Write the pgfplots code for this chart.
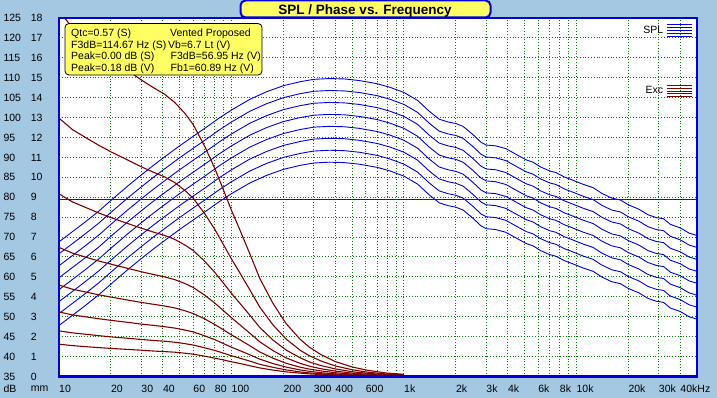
\documentclass[border=0pt]{standalone}
\usepackage{pgfplots}
\pgfplotsset{compat=1.18}
\usepackage{pgfplotstable}
\usepackage{fontspec}
\setmainfont{Liberation Sans}
\definecolor{bgblue}{RGB}{164,200,226}
\definecolor{frameblue}{RGB}{0,0,215}
\definecolor{splblue}{RGB}{0,0,224}
\definecolor{excred}{RGB}{128,0,0}
\definecolor{gridgreen}{RGB}{0,128,0}
\definecolor{boxyellow}{RGB}{255,255,100}

\pgfplotstableread{
f s0 s1 s2 s3 s4 s5 s6 s7
10 68.8 65.8 62.8 59.8 56.8 53.8 50.8 47.8
12 71.4 68.4 65.4 62.4 59.4 56.4 53.4 50.4
14 73.6 70.6 67.6 64.6 61.6 58.6 55.6 52.6
17 76.5 73.5 70.5 67.5 64.5 61.5 58.5 55.5
20 79.2 76.2 73.2 70.2 67.2 64.2 61.2 58.2
25 82.8 79.8 76.8 73.8 70.8 67.8 64.8 61.8
30 85.6 82.6 79.6 76.6 73.6 70.6 67.6 64.6
35 87.9 84.9 81.9 78.9 75.9 72.9 69.9 66.9
40 89.8 86.8 83.8 80.8 77.8 74.8 71.8 68.8
50 92.9 89.9 86.9 83.9 80.9 77.9 74.9 71.9
60 95.3 92.3 89.3 86.3 83.3 80.3 77.3 74.3
70 97.3 94.3 91.3 88.3 85.3 82.3 79.3 76.3
85 99.9 96.9 93.9 90.9 87.9 84.9 81.9 78.9
100 101.9 98.9 95.9 92.9 89.9 86.9 83.9 80.9
128 104.6 101.6 98.6 95.6 92.6 89.6 86.6 83.6
160 106.5 103.5 100.5 97.5 94.5 91.5 88.5 85.5
200 108.0 105.0 102.0 99.0 96.0 93.0 90.0 87.0
250 109.0 106.0 103.0 100.0 97.0 94.0 91.0 88.0
300 109.6 106.6 103.6 100.6 97.6 94.6 91.6 88.6
370 109.8 106.8 103.8 100.8 97.8 94.8 91.8 88.8
450 109.7 106.7 103.7 100.7 97.7 94.7 91.7 88.7
550 109.3 106.3 103.3 100.3 97.3 94.3 91.3 88.3
700 108.5 105.5 102.5 99.5 96.5 93.5 90.5 87.5
830 107.6 104.6 101.6 98.6 95.6 92.6 89.6 86.6
1000 106.3 103.3 100.3 97.3 94.3 91.3 88.3 85.3
1200 104.3 101.3 98.3 95.3 92.3 89.3 86.3 83.3
1400 101.6 98.6 95.6 92.6 89.6 86.6 83.6 80.6
1600 99.6 96.6 93.6 90.6 87.6 84.6 81.6 78.6
1800 98.9 95.9 92.9 89.9 86.9 83.9 80.9 77.9
2000 98.5 95.5 92.5 89.5 86.5 83.5 80.5 77.5
2200 97.8 94.8 91.8 88.8 85.8 82.8 79.8 76.8
2500 95.8 92.8 89.8 86.8 83.8 80.8 77.8 74.8
2800 93.8 90.8 87.8 84.8 81.8 78.8 75.8 72.8
3000 93.1 90.1 87.1 84.1 81.1 78.1 75.1 72.1
3400 92.9 89.9 86.9 83.9 80.9 77.9 74.9 71.9
3900 92.2 89.2 86.2 83.2 80.2 77.2 74.2 71.2
4500 90.7 87.7 84.7 81.7 78.7 75.7 72.7 69.7
5100 89.4 86.4 83.4 80.4 77.4 74.4 71.4 68.4
5600 88.8 85.8 82.8 79.8 76.8 73.8 70.8 67.8
6200 87.6 84.6 81.6 78.6 75.6 72.6 69.6 66.6
7000 86.6 83.6 80.6 77.6 74.6 71.6 68.6 65.6
7600 86.2 83.2 80.2 77.2 74.2 71.2 68.2 65.2
8500 85.1 82.1 79.1 76.1 73.1 70.1 67.1 64.1
9500 84.3 81.3 78.3 75.3 72.3 69.3 66.3 63.3
11000 83.2 80.2 77.2 74.2 71.2 68.2 65.2 62.2
12500 82.4 79.4 76.4 73.4 70.4 67.4 64.4 61.4
14000 81.0 78.0 75.0 72.0 69.0 66.0 63.0 60.0
16000 79.8 76.8 73.8 70.8 67.8 64.8 61.8 58.8
18000 79.3 76.3 73.3 70.3 67.3 64.3 61.3 58.3
20000 78.1 75.1 72.1 69.1 66.1 63.1 60.1 57.1
23000 77.0 74.0 71.0 68.0 65.0 62.0 59.0 56.0
26000 75.6 72.6 69.6 66.6 63.6 60.6 57.6 54.6
29000 74.9 71.9 68.9 65.9 62.9 59.9 56.9 53.9
32000 74.6 71.6 68.6 65.6 62.6 59.6 56.6 53.6
35000 73.2 70.2 67.2 64.2 61.2 58.2 55.2 52.2
40000 72.3 69.3 66.3 63.3 60.3 57.3 54.3 51.3
45000 71.0 68.0 65.0 62.0 59.0 56.0 53.0 50.0
50000 70.4 67.4 64.4 61.4 58.4 55.4 52.4 49.4
}\spltable

\pgfplotstableread{
f e0 e1 e2 e3 e4 e5 e6 e7
10 18.34 12.97 9.17 6.48 4.59 3.24 2.29 1.62
12 17.51 12.39 8.76 6.19 4.38 3.09 2.19 1.55
14.7 16.87 11.93 8.44 5.96 4.22 2.98 2.11 1.49
17 16.41 11.61 8.21 5.80 4.10 2.90 2.05 1.45
20 15.96 11.28 7.98 5.64 3.99 2.82 1.99 1.41
25 15.37 10.87 7.68 5.43 3.84 2.72 1.92 1.36
30 14.89 10.53 7.45 5.26 3.72 2.63 1.86 1.32
35 14.52 10.27 7.26 5.13 3.63 2.57 1.81 1.28
41 14.17 10.02 7.08 5.00 3.54 2.50 1.77 1.25
47 13.75 9.73 6.88 4.86 3.44 2.43 1.72 1.22
53.7 13.21 9.34 6.60 4.67 3.30 2.33 1.65 1.17
60 12.65 8.95 6.33 4.47 3.16 2.24 1.58 1.12
70 11.55 8.17 5.78 4.08 2.89 2.04 1.44 1.02
80 10.45 7.39 5.23 3.69 2.61 1.85 1.31 0.92
90 9.35 6.61 4.68 3.30 2.34 1.65 1.17 0.83
100 8.34 5.90 4.17 2.95 2.09 1.47 1.04 0.74
111 7.43 5.25 3.71 2.62 1.86 1.31 0.93 0.66
128 6.14 4.34 3.07 2.17 1.54 1.09 0.77 0.54
146 4.92 3.48 2.46 1.74 1.23 0.87 0.61 0.43
174 3.67 2.59 1.83 1.30 0.92 0.65 0.46 0.32
208 2.64 1.87 1.32 0.93 0.66 0.47 0.33 0.23
250 1.87 1.32 0.94 0.66 0.47 0.33 0.23 0.17
283 1.47 1.04 0.73 0.52 0.37 0.26 0.18 0.13
330 1.10 0.78 0.55 0.39 0.28 0.19 0.14 0.10
400 0.75 0.53 0.38 0.27 0.19 0.13 0.09 0.07
500 0.48 0.34 0.24 0.17 0.12 0.08 0.06 0.04
600 0.33 0.23 0.17 0.12 0.08 0.06 0.04 0.03
700 0.24 0.17 0.12 0.08 0.06 0.04 0.03 0.02
800 0.17 0.12 0.09 0.06 0.04 0.03 0.02 0.02
900 0.14 0.10 0.07 0.05 0.03 0.02 0.02 0.01
1000 0.11 0.08 0.06 0.04 0.03 0.02 0.01 0.01
}\exctable

\pgfplotsset{
  legimg/.style={
    legend plot pos=right,
    legend image code/.code={%
      \draw[##1] (0pt,-5.6pt) -- (25pt,-5.6pt);
      \draw[##1] (0pt,-2.8pt) -- (25pt,-2.8pt);
      \draw[##1] (0pt,0pt) -- (25pt,0pt);
      \draw[##1] (0pt,2.8pt) -- (25pt,2.8pt);
      \draw[##1] (0pt,5.6pt) -- (25pt,5.6pt);
    },
  },
}

\begin{document}
\begin{tikzpicture}[x=1pt,y=1pt]
\fill[bgblue] (0,0) rectangle (717,398);
\begin{axis}[
  at={(59pt,21.5pt)}, anchor=south west,
  width=638pt, height=358.5pt, scale only axis,
  xmode=log, xmin=10, xmax=50000, ymin=35, ymax=125,
  axis background/.style={fill=white},
  axis line style={draw=none},
  xtick={10,20,30,40,50,60,70,80,90,100,200,300,400,500,600,700,800,900,1000,2000,3000,4000,5000,6000,7000,8000,9000,10000,20000,30000,40000},
  xticklabels={10,20,30,40,{},60,{},80,{},100,200,300,400,{},600,{},{},{},1k,2k,3k,4k,{},6k,{},8k,{},10k,20k,30k,40kHz},
  ytick={35,40,...,125},
  grid=major,
  major grid style={gridgreen, line width=1pt, dash pattern=on 1pt off 1.8pt},
  major tick length=0pt,
  /pgf/number format/assume math mode=true,
  tick label style={font=\fontsize{10.5}{12}\selectfont},
  xticklabel style={anchor=west, yshift=-12pt, inner sep=0pt},
  yticklabel style={anchor=west, xshift=-55.7pt, inner sep=0pt},
  legimg,
  legend style={draw=none, fill=none, inner sep=0pt, at={(0.9925,0.965)}, anchor=east,
    font=\fontsize{10.5}{12}\selectfont, nodes={inner sep=1pt}, column sep=2pt},
]
\addplot[splblue, line width=0.9pt, forget plot] table[x=f,y=s0]{\spltable};
\addplot[splblue, line width=0.9pt, forget plot] table[x=f,y=s1]{\spltable};
\addplot[splblue, line width=0.9pt, forget plot] table[x=f,y=s2]{\spltable};
\addplot[splblue, line width=0.9pt, forget plot] table[x=f,y=s3]{\spltable};
\addplot[splblue, line width=0.9pt, forget plot] table[x=f,y=s4]{\spltable};
\addplot[splblue, line width=0.9pt, forget plot] table[x=f,y=s5]{\spltable};
\addplot[splblue, line width=0.9pt, forget plot] table[x=f,y=s6]{\spltable};
\addplot[splblue, line width=0.9pt, forget plot] table[x=f,y=s7]{\spltable};
\addlegendimage{splblue, line width=0.9pt}
\addlegendentry{SPL}
\end{axis}

\begin{axis}[
  at={(59pt,21.5pt)}, anchor=south west,
  width=638pt, height=358.5pt, scale only axis,
  xmode=log, xmin=10, xmax=50000, ymin=0, ymax=18,
  axis line style={draw=none},
  xtick=\empty,
  ytick={0,1,...,18},
  major tick length=0pt,
  /pgf/number format/assume math mode=true,
  tick label style={font=\fontsize{10.5}{12}\selectfont},
  yticklabel style={anchor=west, xshift=-28.3pt, inner sep=0pt},
  legimg,
  legend style={draw=none, fill=none, inner sep=0pt, at={(0.9925,0.7964)}, anchor=east,
    font=\fontsize{10.5}{12}\selectfont, nodes={inner sep=1pt}, column sep=2pt},
  after end axis/.code={\draw[frameblue, line width=2.5pt] (rel axis cs:0,0) rectangle (rel axis cs:1,1);},
]
\addplot[excred, line width=1.2pt, forget plot] coordinates {(10,8.9) (50000,8.9)};
\addplot[excred, line width=1.1pt, forget plot] table[x=f,y=e0]{\exctable};
\addplot[excred, line width=1.1pt, forget plot] table[x=f,y=e1]{\exctable};
\addplot[excred, line width=1.1pt, forget plot] table[x=f,y=e2]{\exctable};
\addplot[excred, line width=1.1pt, forget plot] table[x=f,y=e3]{\exctable};
\addplot[excred, line width=1.1pt, forget plot] table[x=f,y=e4]{\exctable};
\addplot[excred, line width=1.1pt, forget plot] table[x=f,y=e5]{\exctable};
\addplot[excred, line width=1.1pt, forget plot] table[x=f,y=e6]{\exctable};
\addplot[excred, line width=1.1pt, forget plot] table[x=f,y=e7]{\exctable};
\addlegendimage{excred, line width=0.9pt}
\addlegendentry{Exc}
\end{axis}

\node[anchor=west, inner sep=0pt, font=\fontsize{10.5}{12}\selectfont] at (3.3,9.5) {dB};
\node[anchor=west, inner sep=0pt, font=\fontsize{10.5}{12}\selectfont] at (30.7,9.5) {mm};

% info box
\draw[fill=boxyellow, rounded corners=4pt, line width=0.8pt] (65,374.5) rectangle (262,323);
\begin{scope}[every node/.style={anchor=base west, inner sep=0pt, font=\fontsize{10.5}{12}\selectfont}]
\node at (71,361.3) {Qtc=0.57 (S)};
\node at (71,349.8) {F3dB=114.67 Hz (S)};
\node at (71,338.3) {Peak=0.00 dB (S)};
\node at (71,326.8) {Peak=0.18 dB (V)};
\node at (170,361.3) {Vented Proposed};
\node at (168,349.8) {Vb=6.7 Lt (V)};
\node at (170.5,338.3) {F3dB=56.95 Hz (V)};
\node at (170.5,326.8) {Fb1=60.89 Hz (V)};
\end{scope}

% title box
\draw[fill=boxyellow, draw=frameblue, rounded corners=5pt, line width=2pt] (240.5,380.5) rectangle (490.5,397.5);
\node[anchor=base, inner sep=0pt, font=\bfseries\fontsize{13.5}{16}\selectfont] at (365,383) {SPL / Phase vs. Frequency};

\pgfresetboundingbox
\path[use as bounding box] (0,0) rectangle (717,398);
\end{tikzpicture}
\end{document}
